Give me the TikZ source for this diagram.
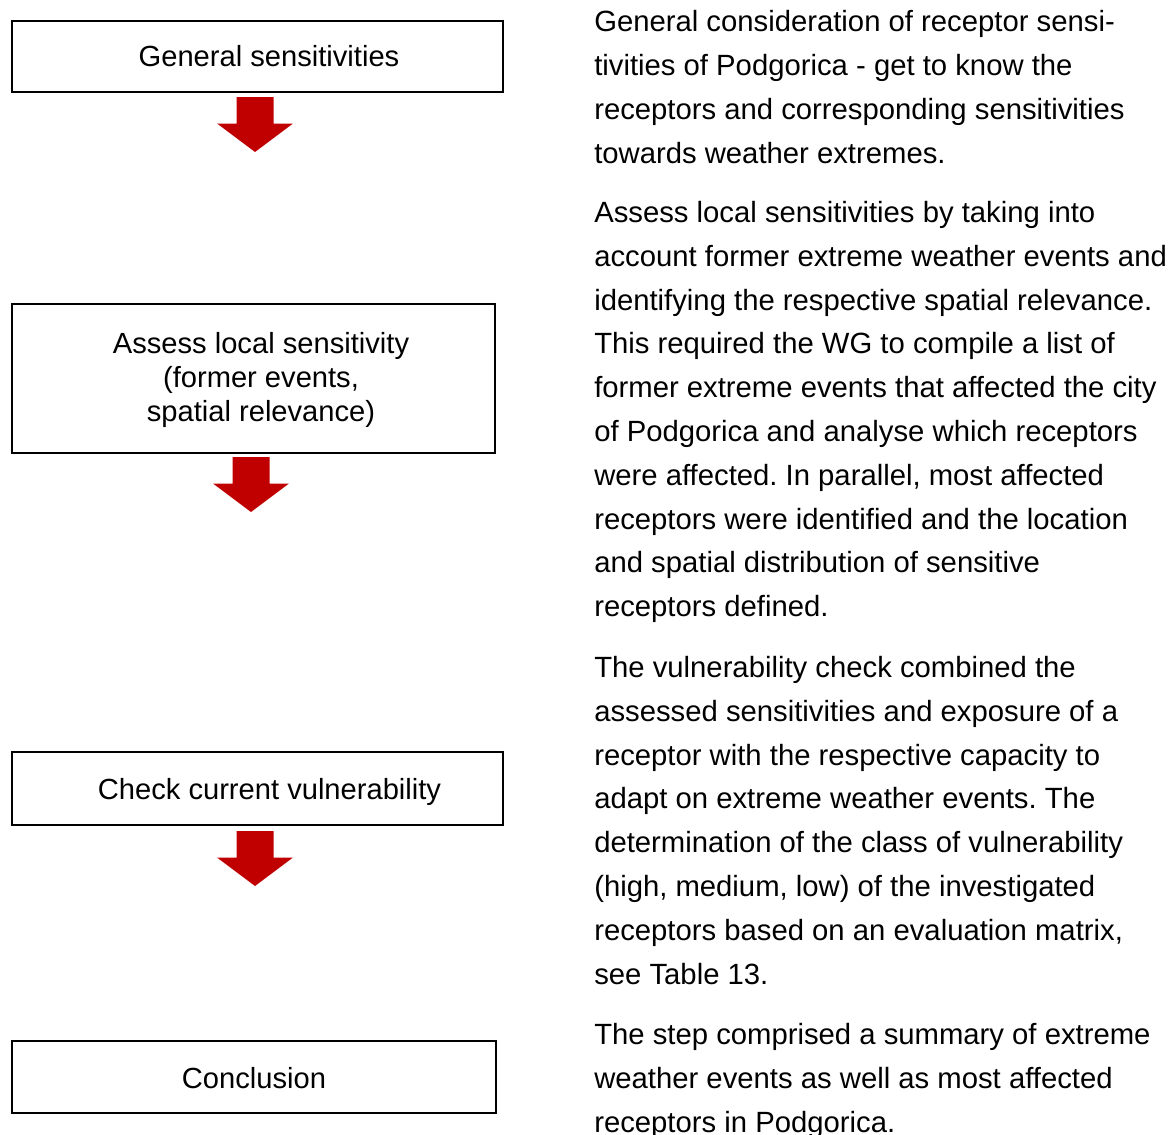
\documentclass[tikz,border=0pt]{standalone}
\usepackage{fontspec}
\setmainfont{Liberation Sans}
\usetikzlibrary{fit}
\definecolor{arrowred}{RGB}{192,0,0}
\frenchspacing
\begin{document}
\begin{tikzpicture}[x=0.75pt,y=-0.75pt,
  stepbox/.style={draw=black,line width=1.1pt,inner sep=0pt},
  boxtext/.style={inner sep=0pt,anchor=base,align=center,font=\fontsize{21.85pt}{25.5pt}\selectfont\frenchspacing},
  para/.style={inner sep=0pt,anchor=base west,align=left,font=\fontsize{21.95pt}{32.85pt}\selectfont\frenchspacing},
  pics/blockarrow/.style={code={\fill[arrowred] (-18.5,0) -- (18.5,0) -- (18.5,26.5) -- (38,26.5) -- (0,55) -- (-38,26.5) -- (-18.5,26.5) -- cycle;}}]
\useasboundingbox (0,0) rectangle (1172,1135);
% boxes
\node[stepbox,fit={(12,21) (503,92)}] (b1) {};
\node[stepbox,fit={(12,304) (495,453)}] (b2) {};
\node[stepbox,fit={(12,752) (503,825)}] (b3) {};
\node[stepbox,fit={(12,1041) (496,1113)}] (b4) {};
% box texts (anchor = baseline of last line)
\node[boxtext] (t1) at (269,66.5) {General sensitivities};
\node[boxtext] (t2) at (261,421.5) {Assess local sensitivity\\(former events,\\spatial relevance)};
\node[boxtext] (t3) at (269.5,799.5) {Check current vulnerability};
\node[boxtext] (t4) at (254,1088.5) {Conclusion};
% arrows
\pic (a1) at (255,97) {blockarrow};
\pic (a2) at (251,457) {blockarrow};
\pic (a3) at (255,831) {blockarrow};
% paragraphs (anchor = baseline of last line)
\node[para] (p1) at (594,163.1) {General consideration of receptor sensi-\\tivities of Podgorica - get to know the\\receptors and corresponding sensitivities\\towards weather extremes.};
\node[para] (p2) at (594,616.7) {Assess local sensitivities by taking into\\account former extreme weather events and\\identifying the respective spatial relevance.\\This required the WG to compile a list of\\former extreme events that affected the city\\of Podgorica and analyse which receptors\\were affected. In parallel, most affected\\receptors were identified and the location\\and spatial distribution of sensitive\\receptors defined.};
\node[para] (p3) at (594,984.1) {The vulnerability check combined the\\assessed sensitivities and exposure of a\\receptor with the respective capacity to\\adapt on extreme weather events. The\\determination of the class of vulnerability\\(high, medium, low) of the investigated\\receptors based on an evaluation matrix,\\see Table 13.};
\node[para] (p4) at (594,1132.1) {The step comprised a summary of extreme\\weather events as well as most affected\\receptors in Podgorica.};
\end{tikzpicture}
\end{document}
